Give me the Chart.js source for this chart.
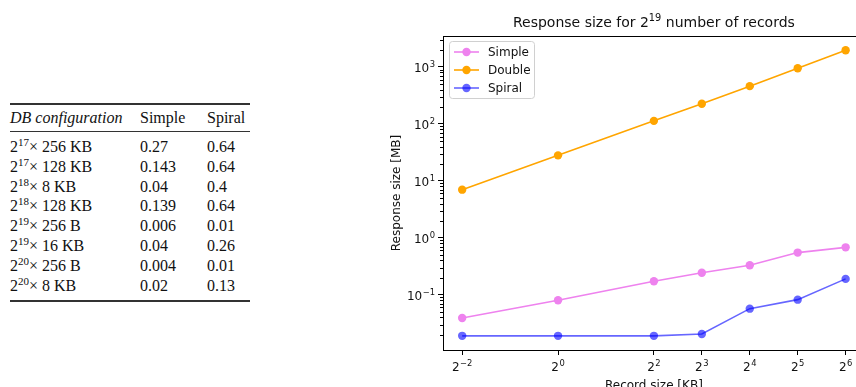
<!DOCTYPE html>
<html>
<head>
<meta charset="utf-8">
<script src="https://cdn.jsdelivr.net/npm/chart.js@4.4.1/dist/chart.umd.min.js"></script>
<style>
  html, body { margin: 0; padding: 0; background: #fff; overflow: hidden; width: 856px; height: 387px; }
  #tbl { position: absolute; left: 10px; top: 103px; border-collapse: collapse;
         font-family: "Liberation Serif", "DejaVu Serif", serif; font-size: 16px; color: #111; }
  #tbl td, #tbl th { padding: 0; line-height: 19.8px; text-align: left; font-weight: normal; white-space: nowrap; }
  #tbl thead tr { border-top: 2px solid #333; border-bottom: 1px solid #333; }
  #tbl thead th { height: 26px; }
  #tbl thead th:first-child { font-style: italic; }
  #tbl tbody tr:first-child td { padding-top: 5px; }
  #tbl tbody tr:last-child td { padding-bottom: 5px; }
  #tbl tbody tr:last-child { border-bottom: 2px solid #333; }
  #tbl sup { font-size: 11px; vertical-align: 6px; line-height: 0; }
  #chartBox { position: absolute; left: 380px; top: 0; }
</style>
</head>
<body>
<table id="tbl">
  <thead><tr><th style="width:130px">DB configuration</th><th style="width:67px">Simple</th><th style="width:43px">Spiral</th></tr></thead>
  <tbody id="tbody"></tbody>
</table>
<div id="chartBox"><canvas id="respChart" width="489" height="400"></canvas></div>
<script>
// table data
var dbExp = [17, 17, 18, 18, 19, 19, 20, 20];
var dbRecord = ['256 KB', '128 KB', '8 KB', '128 KB', '256 B', '16 KB', '256 B', '8 KB'];
var tblSimple = ['0.27', '0.143', '0.04', '0.139', '0.006', '0.04', '0.004', '0.02'];
var tblSpiral = ['0.64', '0.64', '0.4', '0.64', '0.01', '0.26', '0.01', '0.13'];

// chart data
var recordSizes = [0.25, 1, 4, 8, 16, 32, 64];
var xTickExp = ['\u22122', '0', '2', '3', '4', '5', '6'];   // labels 2^e
var simpleMB = [0.039, 0.080, 0.173, 0.243, 0.33, 0.55, 0.68];
var doubleMB = [7, 28, 113, 225, 460, 950, 1960];
var spiralMB = [0.019, 0.019, 0.019, 0.0205, 0.057, 0.082, 0.19];
var yTickValues = [0.1, 1, 10, 100, 1000];
var yTickExp = ['\u22121', '0', '1', '2', '3'];             // labels 10^e

var tbody = document.getElementById('tbody');
dbExp.forEach(function (e, i) {
    var tr = document.createElement('tr');
    tr.innerHTML = '<td>2<sup>' + e + '</sup>\u00D7 ' + dbRecord[i] + '</td><td>' + tblSimple[i] + '</td><td>' + tblSpiral[i] + '</td>';
    tbody.appendChild(tr);
});

function pts(vals) {
    return recordSizes.map(function (x, i) { return { x: x, y: vals[i] }; });
}

var font = '"DejaVu Sans", sans-serif';

// base with raised exponent, like matplotlib mathtext
function drawPow(ctx, base, exp, x, y, align, size) {
    var small = Math.round(size * 0.7 * 10) / 10;
    ctx.font = size + 'px ' + font;
    var wb = ctx.measureText(base).width;
    ctx.font = small + 'px ' + font;
    var we = ctx.measureText(exp).width;
    var w = wb + we + 0.5;
    var sx = align === 'center' ? x - w / 2 : (align === 'right' ? x - w : x);
    ctx.textAlign = 'left';
    ctx.textBaseline = 'alphabetic';
    ctx.font = size + 'px ' + font;
    ctx.fillText(base, sx, y);
    ctx.font = small + 'px ' + font;
    ctx.fillText(exp, sx + wb + 0.5, y - size * 0.42);
    return w;
}

// box, minor ticks, tick labels, title and legend drawn the matplotlib way
var extras = {
    id: 'extras',
    afterDraw: function (chart) {
        var ctx = chart.ctx, a = chart.chartArea, x = chart.scales.x, y = chart.scales.y;
        ctx.save();
        ctx.strokeStyle = '#000';
        ctx.lineWidth = 1;
        ctx.strokeRect(Math.round(a.left) + 0.5, Math.round(a.top) + 0.5, Math.round(a.right - a.left), Math.round(a.bottom - a.top));

        // minor y ticks
        ctx.beginPath();
        for (var k = -2; k <= 3; k++) {
            for (var m = 2; m <= 9; m++) {
                var v = m * Math.pow(10, k);
                if (v < y.min || v > y.max) continue;
                var py = Math.round(y.getPixelForValue(v)) + 0.5;
                ctx.moveTo(a.left - 3, py);
                ctx.lineTo(a.left, py);
            }
        }
        ctx.stroke();

        // tick labels
        ctx.fillStyle = '#111';
        recordSizes.forEach(function (v, i) {
            drawPow(ctx, '2', xTickExp[i], x.getPixelForValue(v), a.bottom + 21, 'center', 12);
        });
        yTickValues.forEach(function (v, i) {
            drawPow(ctx, '10', yTickExp[i], a.left - 8, y.getPixelForValue(v) + 5, 'right', 12);
        });

        // title
        ctx.font = '14px ' + font;
        var t1 = 'Response size for 2', t2 = ' number of records';
        var w1 = ctx.measureText(t1).width, w3 = ctx.measureText(t2).width;
        ctx.font = '9.8px ' + font;
        var w2 = ctx.measureText('19').width;
        var tx = (a.left + a.right) / 2 - (w1 + w2 + w3) / 2;
        ctx.textAlign = 'left';
        ctx.textBaseline = 'alphabetic';
        ctx.font = '14px ' + font;
        ctx.fillText(t1, tx, 27);
        ctx.fillText(t2, tx + w1 + w2, 27);
        ctx.font = '9.8px ' + font;
        ctx.fillText('19', tx + w1, 21);

        // legend
        var lx = a.left + 6, ly = a.top + 5, lw = 85, lh = 57;
        ctx.fillStyle = 'rgba(255,255,255,0.85)';
        ctx.strokeStyle = '#d0d0d0';
        ctx.beginPath();
        ctx.roundRect(lx + 0.5, ly + 0.5, lw, lh, 3);
        ctx.fill();
        ctx.stroke();
        ctx.font = '12px ' + font;
        ctx.textBaseline = 'middle';
        chart.data.datasets.forEach(function (ds, i) {
            var cy = ly + 11 + i * 18;
            ctx.strokeStyle = ds.borderColor;
            ctx.lineWidth = 1.6;
            ctx.beginPath();
            ctx.moveTo(lx + 5, cy);
            ctx.lineTo(lx + 30, cy);
            ctx.stroke();
            ctx.fillStyle = ds.borderColor;
            ctx.beginPath();
            ctx.arc(lx + 17.5, cy, 4.2, 0, Math.PI * 2);
            ctx.fill();
            ctx.fillStyle = '#111';
            ctx.fillText(ds.label, lx + 39, cy + 1);
        });
        ctx.restore();
    }
};

var ctx = document.getElementById('respChart').getContext('2d');
var myChart = new Chart(ctx, {
    type: 'line',
    data: {
        datasets: [{
            label: 'Simple',
            data: pts(simpleMB),
            borderColor: 'violet',
            backgroundColor: 'violet'
        }, {
            label: 'Double',
            data: pts(doubleMB),
            borderColor: 'orange',
            backgroundColor: 'orange'
        }, {
            label: 'Spiral',
            data: pts(spiralMB),
            borderColor: 'rgba(0, 0, 255, 0.6)',
            backgroundColor: 'rgba(0, 0, 255, 0.6)'
        }]
    },
    options: {
        responsive: false,
        animation: false,
        layout: { padding: { top: 36, left: 0, right: 0, bottom: 0 } },
        elements: {
            line: { borderWidth: 1.6, tension: 0 },
            point: { radius: 4.2, borderWidth: 0, hoverRadius: 4.2 }
        },
        plugins: {
            legend: { display: false },
            title: { display: false },
            tooltip: { enabled: false }
        },
        scales: {
            x: {
                type: 'logarithmic',
                min: Math.pow(2, -2.4),
                max: Math.pow(2, 6.4),
                afterBuildTicks: function (s) {
                    s.ticks = recordSizes.map(function (v) { return { value: v }; });
                },
                afterFit: function (s) { s.height = 50; },
                ticks: { display: false, autoSkip: false, maxRotation: 0 },
                grid: { drawOnChartArea: false, tickLength: 5, color: '#000' },
                border: { display: false },
                title: {
                    display: true,
                    text: 'Record size [KB]',
                    color: '#111',
                    font: { family: font, size: 12 },
                    padding: { top: 2, bottom: 7 }
                }
            },
            y: {
                type: 'logarithmic',
                min: Math.pow(10, -1.97),
                max: Math.pow(10, 3.543),
                afterBuildTicks: function (s) {
                    s.ticks = yTickValues.map(function (v) { return { value: v }; });
                },
                afterFit: function (s) { s.width = 63; },
                ticks: { display: false, autoSkip: false },
                grid: { drawOnChartArea: false, tickLength: 5, color: '#000' },
                border: { display: false },
                title: {
                    display: true,
                    text: 'Response size [MB]',
                    color: '#111',
                    font: { family: font, size: 12 },
                    padding: { top: 10, bottom: 4 }
                }
            }
        }
    },
    plugins: [extras]
});
</script>
</body>
</html>
